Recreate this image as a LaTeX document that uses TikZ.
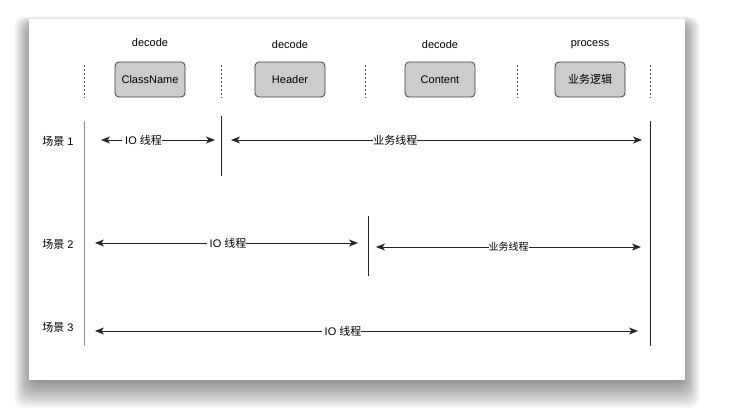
\documentclass[tikz,border=0pt]{standalone}
\usepackage{fontspec}
\setmainfont{Liberation Sans}
\newfontfamily\cjk{Noto Sans CJK SC}
\usetikzlibrary{arrows.meta}
\begin{document}
\begin{tikzpicture}[x=1pt,y=-1pt,
  txt/.style={font=\fontsize{11}{13}\selectfont, inner sep=1pt},
  box/.style={txt, draw=black!75, fill=black!20, rounded corners=4pt, minimum width=70pt, minimum height=35pt, line width=0.8pt},
  sep/.style={draw=black!70, dash pattern=on 2pt off 2pt, line width=0.8pt},
  lane/.style={draw=black!85, line width=0.8pt},
  arr/.style={draw=black!85, line width=0.8pt, {Stealth[length=9pt,width=7pt,inset=2.5pt]}-{Stealth[length=9pt,width=7pt,inset=2.5pt]}},
  lbl/.style={txt, fill=white, inner xsep=0pt, inner ysep=1pt},
  shade/.style={fill=black, fill opacity=0.016, draw=none, rounded corners=10pt}
]
\useasboundingbox (0,0) rectangle (735,418);
\fill[white] (0,0) rectangle (735,418);
% soft drop shadow
\foreach \i in {0,...,28}{
  \fill[shade] ({31-\i*0.6},{26-\i*0.35}) rectangle ({683+\i*0.6},{382+\i*0.95});
}
\fill[white] (29,19) rectangle (685,380);

% headers
\node[txt] (h1) at (150,43) {decode};
\node[txt] (h2) at (290,45) {decode};
\node[txt] (h3) at (440,45) {decode};
\node[txt] (h4) at (590,45) {process};

% boxes
\node[box] (b1) at (150,79.5) {ClassName};
\node[box] (b2) at (290,79.5) {Header};
\node[box] (b3) at (440,79.5) {Content};
\node[box] (b4) at (590,79.5) {\cjk 业务逻辑};

% dotted separators
\foreach \n/\x in {1/84,2/221,3/365,4/517,5/650}{
  \coordinate (s\n t) at (\x,65);
  \coordinate (s\n b) at (\x,98);
  \draw[sep] (s\n t) -- (s\n b);
}

% scene labels
\node[txt] (c1) at (58,141) {{\cjk 场景} 1};
\node[txt] (c2) at (58,244) {{\cjk 场景} 2};
\node[txt] (c3) at (58,327) {{\cjk 场景} 3};

% vertical lanes
\coordinate (v1t) at (84,121); \coordinate (v1b) at (84,346);
\coordinate (v2t) at (221,116); \coordinate (v2b) at (221,176);
\coordinate (v3t) at (368,216); \coordinate (v3b) at (368,276);
\coordinate (v4t) at (650,121); \coordinate (v4b) at (650,346);
\draw[lane, draw=black!45] (v1t) -- (v1b);
\draw[lane] (v2t) -- (v2b);
\draw[lane] (v3t) -- (v3b);
\draw[lane] (v4t) -- (v4b);

% scene 1
\coordinate (a1l) at (101,140); \coordinate (a1r) at (215,140);
\coordinate (a2l) at (231,140); \coordinate (a2r) at (642,140);
\draw[arr] (a1l) -- node[lbl,pos=0.36] {\ IO\ {\cjk 线程}} (a1r);
\draw[arr] (a2l) -- node[lbl,pos=0.40] {\cjk 业务线程} (a2r);

% scene 2
\coordinate (a3l) at (95,243); \coordinate (a3r) at (358,243);
\coordinate (a4l) at (376,247); \coordinate (a4r) at (641,247);
\draw[arr] (a3l) -- node[lbl,pos=0.5] {\ IO\ {\cjk 线程}} (a3r);
\draw[arr] (a4l) -- node[lbl,pos=0.5,font=\fontsize{10}{12}\selectfont] {\cjk 业务线程} (a4r);

% scene 3
\coordinate (a5l) at (95,331); \coordinate (a5r) at (638,331);
\draw[arr] (a5l) -- node[lbl,pos=0.454] {\ IO\ {\cjk 线程}} (a5r);
\end{tikzpicture}
\end{document}
